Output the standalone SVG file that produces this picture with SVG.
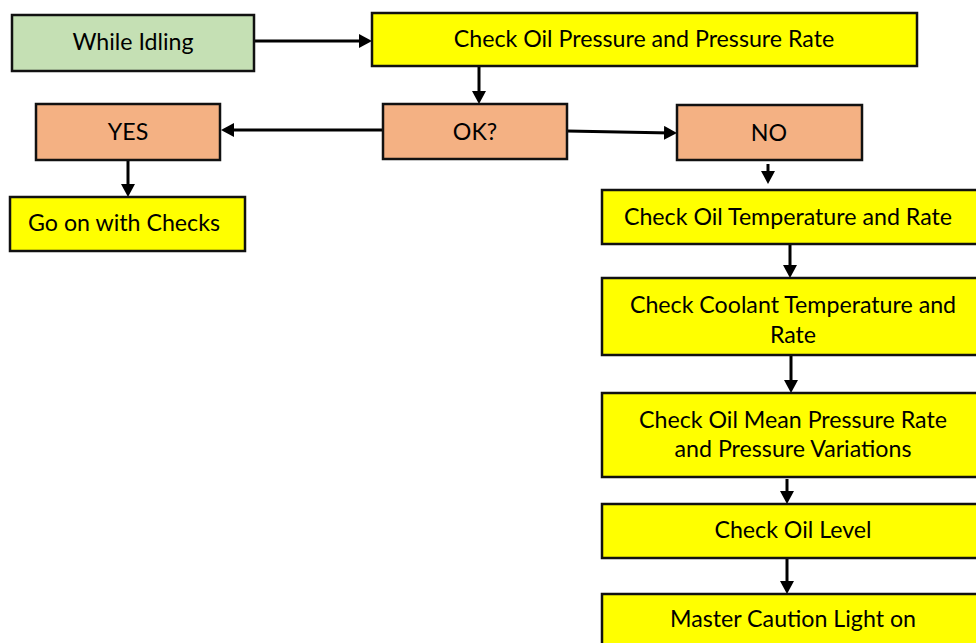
<svg xmlns="http://www.w3.org/2000/svg" width="976" height="643" viewBox="0 0 976 643">
<defs>
<style>
.box{stroke:#111;stroke-width:2.5}
.green{fill:#C5E0B4}
.yellow{fill:#FFFF00}
.orange{fill:#F4B183}
text{font-family:Lato,"Liberation Sans",sans-serif;font-size:23.2px;fill:#000;text-anchor:middle}
.conn{stroke:#000;stroke-width:3;fill:none;marker-end:url(#ah)}
</style>
<marker id="ah" markerUnits="userSpaceOnUse" markerWidth="13" markerHeight="14" refX="7" refY="7" orient="auto">
<path d="M0,0 L13,7 L0,14 z" fill="#000"/>
</marker>
</defs>
<rect width="976" height="643" fill="#fff"/>
<g id="connectors">
<path class="conn" d="M254,41 L366,41"/>
<path class="conn" d="M479,66 L479,98"/>
<path class="conn" d="M383,130 L227,130"/>
<path class="conn" d="M567,131 L671,133"/>
<path class="conn" d="M128,160 L128,191"/>
<path class="conn" d="M768,164 L768,178"/>
<path class="conn" d="M790,243 L790,272"/>
<path class="conn" d="M791,355 L791,387"/>
<path class="conn" d="M787,479 L787,498"/>
<path class="conn" d="M787,557 L787,588"/>
</g>
<g id="n-idling">
<rect class="box green" x="12" y="15" width="242" height="56"/>
<text x="133" y="50">While Idling</text>
</g>
<g id="n-check-pressure">
<rect class="box yellow" x="372" y="13" width="545" height="53"/>
<text x="644" y="47">Check Oil Pressure and Pressure Rate</text>
</g>
<g id="n-ok">
<rect class="box orange" x="383" y="104" width="184" height="55"/>
<text x="475" y="140">OK?</text>
</g>
<g id="n-yes">
<rect class="box orange" x="36" y="104" width="184" height="56"/>
<text x="128" y="140">YES</text>
</g>
<g id="n-no">
<rect class="box orange" x="677" y="105" width="185" height="55"/>
<text x="769" y="141">NO</text>
</g>
<g id="n-go-on">
<rect class="box yellow" x="10" y="197" width="235" height="54"/>
<text x="124" y="231">Go on with Checks</text>
</g>
<g id="n-oil-temp">
<rect class="box yellow" x="602" y="190" width="390" height="54"/>
<text x="788" y="225">Check Oil Temperature and Rate</text>
</g>
<g id="n-coolant">
<rect class="box yellow" x="602" y="278" width="390" height="77"/>
<text x="793" y="313">Check Coolant Temperature and</text>
<text x="793" y="343">Rate</text>
</g>
<g id="n-oil-mean">
<rect class="box yellow" x="602" y="393" width="390" height="84"/>
<text x="793" y="428">Check Oil Mean Pressure Rate</text>
<text x="793" y="457">and Pressure Variations</text>
</g>
<g id="n-oil-level">
<rect class="box yellow" x="602" y="504" width="390" height="54"/>
<text x="793" y="538">Check Oil Level</text>
</g>
<g id="n-master">
<rect class="box yellow" x="602" y="594" width="390" height="70"/>
<text x="793" y="627">Master Caution Light on</text>
</g>
</svg>
